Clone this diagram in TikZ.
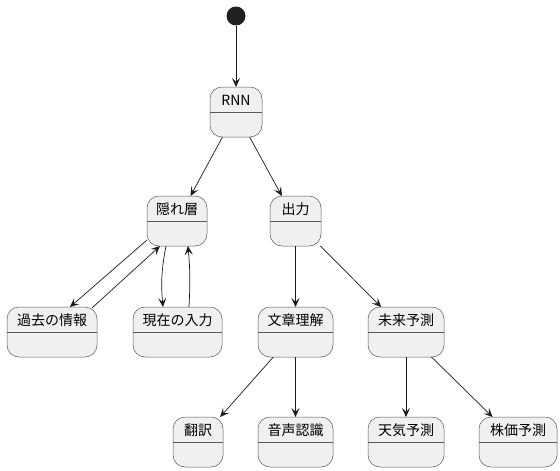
\documentclass[tikz,border=0pt]{standalone}
\usepackage{fontspec}
\setmainfont{Noto Sans CJK JP}
\usetikzlibrary{arrows.meta}

\begin{document}
\begin{tikzpicture}[x=1pt, y=-1pt,
            state/.style={rectangle, draw=black!65, line width=0.5pt, fill=black!6,
                rounded corners=12pt, anchor=north, inner sep=0pt, outer sep=0pt,
                text height=18pt, text depth=32pt, font=\fontsize{14}{16}\selectfont},
            arrow/.style={-{Stealth[length=9pt,width=8pt,inset=4pt]}, line width=0.7pt, draw=black!90},
            divider/.style={draw=black!65, line width=0.5pt}
        ]
        \useasboundingbox (0,0) rectangle (560,471);

        % Start point
        \node[circle, fill=black!87, minimum size=19pt, inner sep=0pt] (start) at (236,16) {};

        % First level
        \node[state, minimum width=52pt] (rnn) at (236,87) {RNN};

        % Second level
        \node[state, minimum width=60pt] (hidden) at (177,196) {隠れ層};
        \node[state, minimum width=51pt] (output) at (295.5,196) {出力};

        % Third level
        \node[state, minimum width=90pt] (past) at (52,307) {過去の情報};
        \node[state, minimum width=89pt] (current) at (177.5,307) {現在の入力};
        \node[state, minimum width=75pt] (text) at (295.5,307) {文章理解};
        \node[state, minimum width=76pt] (future) at (406,307) {未来予測};

        % Fourth level
        \node[state, minimum width=50pt] (translate) at (198,417) {翻訳};
        \node[state, minimum width=75pt] (speech) at (295.5,417) {音声認識};
        \node[state, minimum width=76pt] (weather) at (406,417) {天気予測};
        \node[state, minimum width=78pt] (stock) at (518,417) {株価予測};

        % Dividers under the titles
        \foreach \n in {rnn, hidden, output, past, current, text, future, translate, speech, weather, stock}
            \draw[divider] ([yshift=-25pt]\n.north west) -- ([yshift=-25pt]\n.north east);

        % Connections
        \draw[arrow] (start) -- (rnn);
        \draw[arrow] (rnn) -- (hidden);
        \draw[arrow] (rnn) -- (output);

        \draw[arrow] ([yshift=6pt]hidden.south west) -- ([xshift=18pt]past.north);
        \draw[arrow] ([xshift=-5pt,yshift=-1pt]past.north east) -- ([xshift=13pt]hidden.south west);
        \draw[arrow] ([xshift=19pt]hidden.south west) to[bend right=8] ([xshift=-14.5pt]current.north);
        \draw[arrow] ([xshift=11.5pt]current.north) to[bend right=4] ([xshift=11pt]hidden.south);

        \draw[arrow] (output) -- (text);
        \draw[arrow] (output) -- (future);

        \draw[arrow] (text) -- (translate);
        \draw[arrow] (text) -- (speech);
        \draw[arrow] (future) -- (weather);
        \draw[arrow] (future) -- (stock);

\end{tikzpicture}
\end{document}
